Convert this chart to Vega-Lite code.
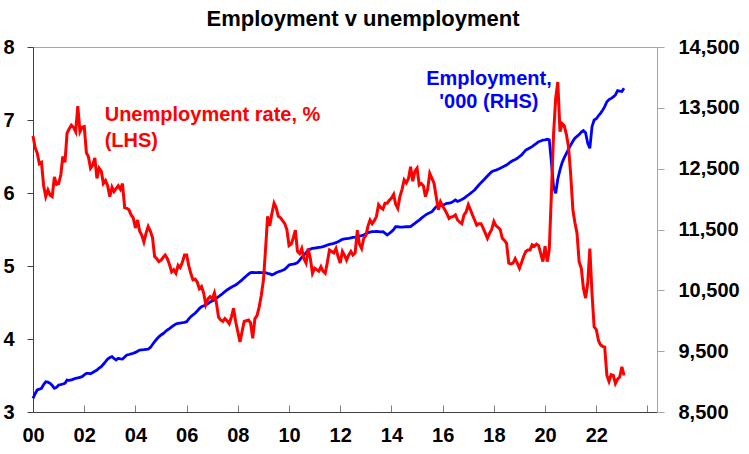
{
"$schema":"https://vega.github.io/schema/vega-lite/v6.json",
"width":624,"height":365,"autosize":"none",
"padding":{"left":33,"top":47,"right":92,"bottom":42},
"background":"white",
"title":{"text":"Employment v unemployment","font":"Liberation Sans","fontSize":22,"fontWeight":"bold","color":"black","anchor":"middle","dx":18,"offset":6},
"config":{"view":{"stroke":"#a6a6a6","strokeWidth":1},"axis":{"grid":false,"title":null,"labelFont":"Liberation Sans","labelFontSize":20,"labelFontWeight":"bold","labelColor":"black"}},
"datasets":{
"m":[
{"d":"2000-01-01","u":6.78,"e":8725},{"d":"2000-02-01","u":6.62,"e":8800},{"d":"2000-03-01","u":6.55,"e":8862},{"d":"2000-04-01","u":6.40,"e":8875},{"d":"2000-05-01","u":6.42,"e":8890},{"d":"2000-06-01","u":6.10,"e":8950},{"d":"2000-07-01","u":5.95,"e":8998},{"d":"2000-08-01","u":6.04,"e":8990},{"d":"2000-09-01","u":5.97,"e":8972},{"d":"2000-10-01","u":5.95,"e":8935},{"d":"2000-11-01","u":6.22,"e":8890},{"d":"2000-12-01","u":6.12,"e":8905},
{"d":"2001-01-01","u":6.13,"e":8944},{"d":"2001-02-01","u":6.25,"e":8950},{"d":"2001-03-01","u":6.50,"e":8960},{"d":"2001-04-01","u":6.42,"e":8972},{"d":"2001-05-01","u":6.82,"e":9026},{"d":"2001-06-01","u":6.88,"e":9020},{"d":"2001-07-01","u":6.93,"e":9026},{"d":"2001-08-01","u":6.90,"e":9040},{"d":"2001-09-01","u":6.84,"e":9054},{"d":"2001-10-01","u":7.19,"e":9060},{"d":"2001-11-01","u":6.84,"e":9070},{"d":"2001-12-01","u":6.90,"e":9080},
{"d":"2002-01-01","u":6.91,"e":9110},{"d":"2002-02-01","u":6.55,"e":9136},{"d":"2002-03-01","u":6.50,"e":9135},{"d":"2002-04-01","u":6.34,"e":9130},{"d":"2002-05-01","u":6.38,"e":9150},{"d":"2002-06-01","u":6.48,"e":9170},{"d":"2002-07-01","u":6.20,"e":9190},{"d":"2002-08-01","u":6.34,"e":9220},{"d":"2002-09-01","u":6.30,"e":9245},{"d":"2002-10-01","u":6.13,"e":9285},{"d":"2002-11-01","u":6.17,"e":9327},{"d":"2002-12-01","u":6.10,"e":9370},
{"d":"2003-01-01","u":5.95,"e":9395},{"d":"2003-02-01","u":6.08,"e":9409},{"d":"2003-03-01","u":6.02,"e":9380},{"d":"2003-04-01","u":6.06,"e":9355},{"d":"2003-05-01","u":6.10,"e":9383},{"d":"2003-06-01","u":6.05,"e":9375},{"d":"2003-07-01","u":6.13,"e":9370},{"d":"2003-08-01","u":5.80,"e":9405},{"d":"2003-09-01","u":5.79,"e":9437},{"d":"2003-10-01","u":5.77,"e":9445},{"d":"2003-11-01","u":5.70,"e":9455},{"d":"2003-12-01","u":5.66,"e":9465},
{"d":"2004-01-01","u":5.52,"e":9480},{"d":"2004-02-01","u":5.63,"e":9500},{"d":"2004-03-01","u":5.48,"e":9519},{"d":"2004-04-01","u":5.42,"e":9522},{"d":"2004-05-01","u":5.33,"e":9525},{"d":"2004-06-01","u":5.45,"e":9530},{"d":"2004-07-01","u":5.54,"e":9535},{"d":"2004-08-01","u":5.48,"e":9560},{"d":"2004-09-01","u":5.39,"e":9610},{"d":"2004-10-01","u":5.13,"e":9656},{"d":"2004-11-01","u":5.10,"e":9700},{"d":"2004-12-01","u":5.06,"e":9735},
{"d":"2005-01-01","u":5.08,"e":9766},{"d":"2005-02-01","u":5.12,"e":9790},{"d":"2005-03-01","u":5.15,"e":9820},{"d":"2005-04-01","u":5.10,"e":9848},{"d":"2005-05-01","u":5.02,"e":9870},{"d":"2005-06-01","u":4.92,"e":9900},{"d":"2005-07-01","u":4.95,"e":9925},{"d":"2005-08-01","u":4.90,"e":9947},{"d":"2005-09-01","u":5.01,"e":9955},{"d":"2005-10-01","u":4.98,"e":9962},{"d":"2005-11-01","u":5.05,"e":9968},{"d":"2005-12-01","u":5.15,"e":9975},
{"d":"2006-01-01","u":5.15,"e":9985},{"d":"2006-02-01","u":5.00,"e":10030},{"d":"2006-03-01","u":4.90,"e":10067},{"d":"2006-04-01","u":4.81,"e":10095},{"d":"2006-05-01","u":4.82,"e":10122},{"d":"2006-06-01","u":4.78,"e":10160},{"d":"2006-07-01","u":4.69,"e":10200},{"d":"2006-08-01","u":4.72,"e":10231},{"d":"2006-09-01","u":4.63,"e":10245},{"d":"2006-10-01","u":4.47,"e":10259},{"d":"2006-11-01","u":4.55,"e":10280},{"d":"2006-12-01","u":4.58,"e":10310},
{"d":"2007-01-01","u":4.55,"e":10325},{"d":"2007-02-01","u":4.63,"e":10341},{"d":"2007-03-01","u":4.50,"e":10370},{"d":"2007-04-01","u":4.30,"e":10395},{"d":"2007-05-01","u":4.26,"e":10423},{"d":"2007-06-01","u":4.24,"e":10450},{"d":"2007-07-01","u":4.28,"e":10480},{"d":"2007-08-01","u":4.25,"e":10506},{"d":"2007-09-01","u":4.21,"e":10530},{"d":"2007-10-01","u":4.30,"e":10550},{"d":"2007-11-01","u":4.42,"e":10570},{"d":"2007-12-01","u":4.24,"e":10588},
{"d":"2008-01-01","u":4.10,"e":10615},{"d":"2008-02-01","u":3.96,"e":10645},{"d":"2008-03-01","u":4.10,"e":10670},{"d":"2008-04-01","u":4.24,"e":10705},{"d":"2008-05-01","u":4.25,"e":10736},{"d":"2008-06-01","u":4.26,"e":10765},{"d":"2008-07-01","u":4.22,"e":10790},{"d":"2008-08-01","u":4.01,"e":10795},{"d":"2008-09-01","u":4.28,"e":10790},{"d":"2008-10-01","u":4.32,"e":10790},{"d":"2008-11-01","u":4.44,"e":10795},{"d":"2008-12-01","u":4.60,"e":10792},
{"d":"2009-01-01","u":4.81,"e":10790},{"d":"2009-02-01","u":5.25,"e":10790},{"d":"2009-03-01","u":5.68,"e":10780},{"d":"2009-04-01","u":5.55,"e":10772},{"d":"2009-05-01","u":5.72,"e":10752},{"d":"2009-06-01","u":5.86,"e":10770},{"d":"2009-07-01","u":5.80,"e":10790},{"d":"2009-08-01","u":5.68,"e":10806},{"d":"2009-09-01","u":5.66,"e":10815},{"d":"2009-10-01","u":5.62,"e":10830},{"d":"2009-11-01","u":5.58,"e":10846},{"d":"2009-12-01","u":5.50,"e":10880},
{"d":"2010-01-01","u":5.28,"e":10917},{"d":"2010-02-01","u":5.30,"e":10925},{"d":"2010-03-01","u":5.38,"e":10930},{"d":"2010-04-01","u":5.49,"e":10940},{"d":"2010-05-01","u":5.20,"e":10955},{"d":"2010-06-01","u":5.17,"e":10995},{"d":"2010-07-01","u":5.24,"e":11040},{"d":"2010-08-01","u":5.10,"e":11081},{"d":"2010-09-01","u":5.04,"e":11120},{"d":"2010-10-01","u":5.24,"e":11163},{"d":"2010-11-01","u":5.10,"e":11178},{"d":"2010-12-01","u":4.90,"e":11190},
{"d":"2011-01-01","u":4.97,"e":11195},{"d":"2011-02-01","u":4.95,"e":11200},{"d":"2011-03-01","u":4.93,"e":11207},{"d":"2011-04-01","u":4.99,"e":11212},{"d":"2011-05-01","u":4.93,"e":11218},{"d":"2011-06-01","u":4.90,"e":11230},{"d":"2011-07-01","u":5.05,"e":11245},{"d":"2011-08-01","u":5.22,"e":11255},{"d":"2011-09-01","u":5.20,"e":11262},{"d":"2011-10-01","u":5.18,"e":11272},{"d":"2011-11-01","u":5.24,"e":11285},{"d":"2011-12-01","u":5.13,"e":11300},
{"d":"2012-01-01","u":5.04,"e":11320},{"d":"2012-02-01","u":5.20,"e":11339},{"d":"2012-03-01","u":5.15,"e":11345},{"d":"2012-04-01","u":5.08,"e":11350},{"d":"2012-05-01","u":5.15,"e":11355},{"d":"2012-06-01","u":5.20,"e":11362},{"d":"2012-07-01","u":5.15,"e":11370},{"d":"2012-08-01","u":5.18,"e":11375},{"d":"2012-09-01","u":5.49,"e":11382},{"d":"2012-10-01","u":5.30,"e":11392},{"d":"2012-11-01","u":5.24,"e":11400},{"d":"2012-12-01","u":5.38,"e":11410},
{"d":"2013-01-01","u":5.42,"e":11430},{"d":"2013-02-01","u":5.55,"e":11448},{"d":"2013-03-01","u":5.63,"e":11458},{"d":"2013-04-01","u":5.58,"e":11465},{"d":"2013-05-01","u":5.62,"e":11465},{"d":"2013-06-01","u":5.68,"e":11468},{"d":"2013-07-01","u":5.84,"e":11465},{"d":"2013-08-01","u":5.80,"e":11462},{"d":"2013-09-01","u":5.78,"e":11465},{"d":"2013-10-01","u":5.86,"e":11440},{"d":"2013-11-01","u":5.86,"e":11410},{"d":"2013-12-01","u":5.90,"e":11435},
{"d":"2014-01-01","u":5.93,"e":11465},{"d":"2014-02-01","u":5.98,"e":11500},{"d":"2014-03-01","u":5.85,"e":11546},{"d":"2014-04-01","u":5.79,"e":11545},{"d":"2014-05-01","u":5.95,"e":11540},{"d":"2014-06-01","u":6.05,"e":11540},{"d":"2014-07-01","u":6.18,"e":11543},{"d":"2014-08-01","u":6.14,"e":11546},{"d":"2014-09-01","u":6.20,"e":11545},{"d":"2014-10-01","u":6.36,"e":11546},{"d":"2014-11-01","u":6.16,"e":11575},{"d":"2014-12-01","u":6.30,"e":11600},
{"d":"2015-01-01","u":6.34,"e":11628},{"d":"2015-02-01","u":6.11,"e":11655},{"d":"2015-03-01","u":6.13,"e":11683},{"d":"2015-04-01","u":6.10,"e":11710},{"d":"2015-05-01","u":5.95,"e":11738},{"d":"2015-06-01","u":6.05,"e":11760},{"d":"2015-07-01","u":6.27,"e":11775},{"d":"2015-08-01","u":6.20,"e":11793},{"d":"2015-09-01","u":6.13,"e":11835},{"d":"2015-10-01","u":5.95,"e":11875},{"d":"2015-11-01","u":5.77,"e":11885},{"d":"2015-12-01","u":5.88,"e":11892},
{"d":"2016-01-01","u":5.82,"e":11900},{"d":"2016-02-01","u":5.77,"e":11915},{"d":"2016-03-01","u":5.72,"e":11930},{"d":"2016-04-01","u":5.65,"e":11935},{"d":"2016-05-01","u":5.67,"e":11940},{"d":"2016-06-01","u":5.68,"e":11962},{"d":"2016-07-01","u":5.70,"e":11985},{"d":"2016-08-01","u":5.63,"e":11960},{"d":"2016-09-01","u":5.60,"e":11975},{"d":"2016-10-01","u":5.58,"e":11995},{"d":"2016-11-01","u":5.70,"e":12013},{"d":"2016-12-01","u":5.74,"e":12040},
{"d":"2017-01-01","u":5.84,"e":12067},{"d":"2017-02-01","u":5.77,"e":12095},{"d":"2017-03-01","u":5.70,"e":12120},{"d":"2017-04-01","u":5.63,"e":12150},{"d":"2017-05-01","u":5.56,"e":12190},{"d":"2017-06-01","u":5.58,"e":12232},{"d":"2017-07-01","u":5.58,"e":12270},{"d":"2017-08-01","u":5.52,"e":12305},{"d":"2017-09-01","u":5.45,"e":12342},{"d":"2017-10-01","u":5.38,"e":12380},{"d":"2017-11-01","u":5.45,"e":12415},{"d":"2017-12-01","u":5.50,"e":12450},
{"d":"2018-01-01","u":5.61,"e":12465},{"d":"2018-02-01","u":5.55,"e":12477},{"d":"2018-03-01","u":5.53,"e":12490},{"d":"2018-04-01","u":5.50,"e":12506},{"d":"2018-05-01","u":5.38,"e":12525},{"d":"2018-06-01","u":5.35,"e":12542},{"d":"2018-07-01","u":5.31,"e":12560},{"d":"2018-08-01","u":5.04,"e":12588},{"d":"2018-09-01","u":5.03,"e":12615},{"d":"2018-10-01","u":5.04,"e":12635},{"d":"2018-11-01","u":5.10,"e":12652},{"d":"2018-12-01","u":5.04,"e":12670},
{"d":"2019-01-01","u":4.97,"e":12700},{"d":"2019-02-01","u":5.05,"e":12725},{"d":"2019-03-01","u":5.13,"e":12765},{"d":"2019-04-01","u":5.20,"e":12807},{"d":"2019-05-01","u":5.22,"e":12825},{"d":"2019-06-01","u":5.22,"e":12845},{"d":"2019-07-01","u":5.29,"e":12862},{"d":"2019-08-01","u":5.27,"e":12890},{"d":"2019-09-01","u":5.30,"e":12915},{"d":"2019-10-01","u":5.28,"e":12944},{"d":"2019-11-01","u":5.17,"e":12955},{"d":"2019-12-01","u":5.06,"e":12970},
{"d":"2020-01-01","u":5.27,"e":12975},{"d":"2020-02-01","u":5.06,"e":12983},{"d":"2020-03-01","u":5.22,"e":12975},{"d":"2020-04-01","u":6.00,"e":12600},{"d":"2020-05-01","u":6.80,"e":12200},{"d":"2020-06-01","u":7.30,"e":12095},{"d":"2020-07-01","u":7.52,"e":12330},{"d":"2020-08-01","u":6.84,"e":12480},{"d":"2020-09-01","u":6.95,"e":12600},{"d":"2020-10-01","u":6.92,"e":12680},{"d":"2020-11-01","u":6.80,"e":12750},{"d":"2020-12-01","u":6.63,"e":12820},
{"d":"2021-01-01","u":6.25,"e":12890},{"d":"2021-02-01","u":5.77,"e":12950},{"d":"2021-03-01","u":5.60,"e":13000},{"d":"2021-04-01","u":5.45,"e":13030},{"d":"2021-05-01","u":5.06,"e":13060},{"d":"2021-06-01","u":4.97,"e":13100},{"d":"2021-07-01","u":4.70,"e":13125},{"d":"2021-08-01","u":4.56,"e":13090},{"d":"2021-09-01","u":4.77,"e":12917},{"d":"2021-10-01","u":5.24,"e":12835},{"d":"2021-11-01","u":4.62,"e":13190},{"d":"2021-12-01","u":4.17,"e":13300},
{"d":"2022-01-01","u":4.13,"e":13320},{"d":"2022-02-01","u":3.98,"e":13370},{"d":"2022-03-01","u":3.92,"e":13410},{"d":"2022-04-01","u":3.90,"e":13460},{"d":"2022-05-01","u":3.89,"e":13520},{"d":"2022-06-01","u":3.50,"e":13600},{"d":"2022-07-01","u":3.42,"e":13635},{"d":"2022-08-01","u":3.51,"e":13656},{"d":"2022-09-01","u":3.50,"e":13680},{"d":"2022-10-01","u":3.39,"e":13711},{"d":"2022-11-01","u":3.45,"e":13782},{"d":"2022-12-01","u":3.48,"e":13775},
{"d":"2023-01-01","u":3.62,"e":13770},{"d":"2023-02-01","u":3.50,"e":13821}
],
"labU":[{"d":"2002-10-20","u":7.07,"t":"Unemployment rate, %"},{"d":"2002-10-20","u":6.71,"t":"(LHS)"}],
"labE":[{"d":"2017-10-22","e":13974,"t":"Employment,"},{"d":"2017-10-22","e":13596,"t":"'000 (RHS)"}]
},
"data":{"name":"m"},
"encoding":{"x":{"field":"d","type":"temporal",
 "scale":{"type":"utc","nice":false,"domain":[{"year":2000,"month":1,"date":1,"utc":true},{"year":2024,"month":5,"date":16,"utc":true}]},
 "axis":{"orient":"bottom","labelExpr":"utcyear(datum.value)==2024 ? '' : utcFormat(datum.value, '%y')",
  "values":[{"year":2000,"month":1,"date":1,"utc":true},{"year":2002,"month":1,"date":1,"utc":true},{"year":2004,"month":1,"date":1,"utc":true},{"year":2006,"month":1,"date":1,"utc":true},{"year":2008,"month":1,"date":1,"utc":true},{"year":2010,"month":1,"date":1,"utc":true},{"year":2012,"month":1,"date":1,"utc":true},{"year":2014,"month":1,"date":1,"utc":true},{"year":2016,"month":1,"date":1,"utc":true},{"year":2018,"month":1,"date":1,"utc":true},{"year":2020,"month":1,"date":1,"utc":true},{"year":2022,"month":1,"date":1,"utc":true},{"year":2024,"month":1,"date":1,"utc":true}],
  "tickSize":-7,"labelPadding":20,"domainColor":"#404040","tickColor":"#808080","labelFlush":false,"labelOverlap":false}}},
"layer":[
 {"layer":[
  {"mark":{"type":"line","color":"#0000ff","strokeWidth":2.8},
   "encoding":{"y":{"field":"e","type":"quantitative","scale":{"domain":[8500,14500],"nice":false,"zero":false},
    "axis":{"orient":"right","values":[8500,9500,10500,11500,12500,13500,14500],"labelExpr":"format(datum.value, ',')","tickSize":7,"labelPadding":14,"domainColor":"#a6a6a6","tickColor":"#a6a6a6"}}}},
  {"data":{"name":"labE"},"mark":{"type":"text","color":"#0000ff","font":"Liberation Sans","fontSize":20,"fontWeight":"bold","align":"center","baseline":"middle"},
   "encoding":{"y":{"field":"e","type":"quantitative"},"text":{"field":"t"}}}
 ]},
 {"layer":[
  {"mark":{"type":"line","color":"#ff0000","strokeWidth":3},
   "encoding":{"y":{"field":"u","type":"quantitative","scale":{"domain":[3,8],"nice":false,"zero":false},
    "axis":{"orient":"left","values":[3,4,5,6,7,8],"labelExpr":"format(datum.value, 'd')","tickSize":6,"labelPadding":13,"domainColor":"#404040","tickColor":"#404040"}}}},
  {"data":{"name":"labU"},"mark":{"type":"text","color":"#ff0000","font":"Liberation Sans","fontSize":20,"fontWeight":"bold","align":"left","baseline":"middle"},
   "encoding":{"y":{"field":"u","type":"quantitative"},"text":{"field":"t"}}}
 ]}
],
"resolve":{"scale":{"y":"independent"},"axis":{"y":"independent"}}
}
